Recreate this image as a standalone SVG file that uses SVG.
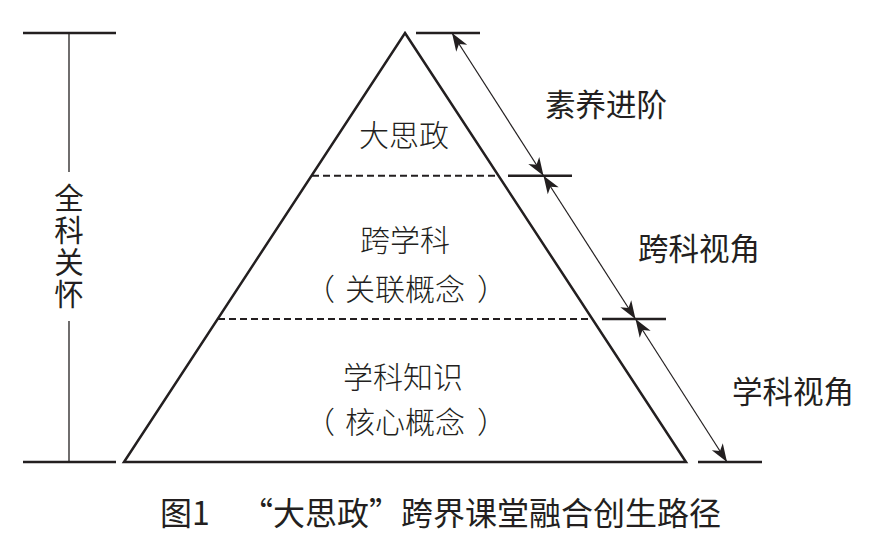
<svg xmlns="http://www.w3.org/2000/svg" width="877" height="546" viewBox="0 0 877 546">
  <style>
    .thick { stroke: #231f20; stroke-width: 2.5; fill: none; }
    .thin { stroke: #231f20; stroke-width: 1.3; fill: none; }
    .dash { stroke: #231f20; stroke-width: 2; fill: none; stroke-dasharray: 7 4; }
    .arrow { stroke: #231f20; stroke-width: 1.2; fill: none; marker-start: url(#ah); marker-end: url(#ah); }
    .sans { font-family: "Noto Sans CJK SC", "Noto Sans", sans-serif; fill: #231f20; }
    .inner { font-family: "Noto Sans CJK SC", "Noto Sans", sans-serif; font-weight: 300; fill: #231f20; font-size: 30px; }
    .mid { text-anchor: middle; }
    .side { font-size: 30.5px; text-anchor: middle; }
  </style>
  <defs>
    <marker id="ah" viewBox="-20 -8 22 16" refX="0" refY="0" markerWidth="22" markerHeight="16" markerUnits="userSpaceOnUse" orient="auto-start-reverse">
      <path d="M0,0 L-18,-6.5 L-13,0 L-18,6.5 Z" fill="#231f20"/>
    </marker>
  </defs>
  <rect width="877" height="546" fill="#ffffff"/>

  <g id="scale-left">
    <line class="thick" x1="23" y1="33" x2="116" y2="33"/>
    <line class="thick" x1="23" y1="462" x2="116" y2="462"/>
    <line class="thin" x1="69" y1="33" x2="69" y2="172"/>
    <line class="thin" x1="69" y1="321" x2="69" y2="462"/>
    <text class="sans" font-size="29.5" x="69" y="183" writing-mode="tb" letter-spacing="2.5">全科关怀</text>
  </g>

  <g id="pyramid">
    <path class="thick" d="M405,33 L686,462 L124,462 Z" stroke-linejoin="miter"/>
  </g>

  <g id="level-top">
    <text class="inner mid" x="404" y="146">大思政</text>
  </g>
  <line class="dash" x1="312" y1="175.7" x2="498" y2="175.7"/>

  <g id="level-middle">
    <text class="inner mid" x="405" y="251">跨学科</text>
    <text class="inner" y="300"><tspan x="305">（</tspan><tspan x="345">关联概念</tspan><tspan x="477">）</tspan></text>
  </g>
  <line class="dash" x1="218" y1="319" x2="592" y2="319"/>

  <g id="level-bottom">
    <text class="inner mid" x="403" y="388">学科知识</text>
    <text class="inner" y="433"><tspan x="305">（</tspan><tspan x="345">核心概念</tspan><tspan x="477">）</tspan></text>
  </g>

  <g id="ticks-right">
    <line class="thick" x1="416" y1="33" x2="480" y2="33"/>
    <line class="thick" x1="508" y1="175.7" x2="572" y2="175.7"/>
    <line class="thick" x1="602" y1="319" x2="666" y2="319"/>
    <line class="thick" x1="698" y1="462" x2="762" y2="462"/>
  </g>

  <g id="connectors">
    <line class="arrow" x1="452" y1="33" x2="543.5" y2="175.7"/>
    <line class="arrow" x1="543.5" y1="175.7" x2="635.5" y2="319"/>
    <line class="arrow" x1="635.5" y1="319" x2="727" y2="462"/>
  </g>

  <g id="label-suyang">
    <text class="sans side" x="606" y="116">素养进阶</text>
  </g>
  <g id="label-kuake">
    <text class="sans side" x="699" y="260">跨科视角</text>
  </g>
  <g id="label-xueke">
    <text class="sans side" x="793" y="403">学科视角</text>
  </g>

  <g id="caption">
    <text class="sans" font-size="32" x="160" y="525">图1</text>
    <text class="sans" font-size="32" x="241" y="525" textLength="480" lengthAdjust="spacing">“大思政”跨界课堂融合创生路径</text>
  </g>
</svg>
